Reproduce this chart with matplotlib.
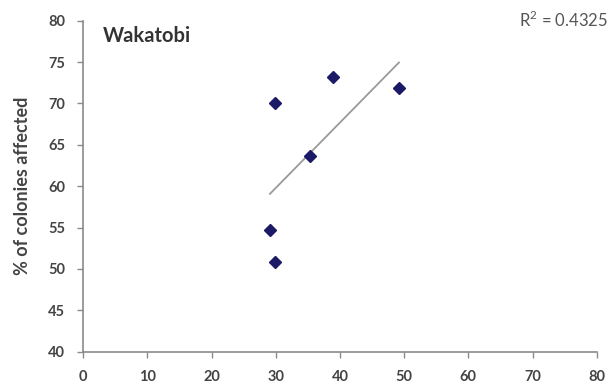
import numpy as np
import matplotlib
matplotlib.use("Agg")
import matplotlib.pyplot as plt

# Bleaching survey, Wakatobi sites
x_vals = [29.1, 29.9, 29.9, 35.3, 39.0, 49.2]
y_vals = [54.7, 50.8, 70.1, 63.6, 73.2, 71.9]
x_ticks = [0, 10, 20, 30, 40, 50, 60, 70, 80]
y_ticks = [40, 45, 50, 55, 60, 65, 70, 75, 80]
site_name = "Wakatobi"
r2_label = "R$^2$ = 0.4325"
y_title = "% of colonies affected"

plt.rcParams['font.family'] = ['Lato', 'DejaVu Sans']
plt.rcParams['mathtext.fontset'] = 'custom'
plt.rcParams['mathtext.rm'] = 'Lato'

fig = plt.figure(figsize=(6.12, 3.87), dpi=100)
ax = fig.add_axes([0.1358, 0.0912, 0.8392, 0.8553])

# linear trendline over the data range
slope, intercept = np.polyfit(x_vals, y_vals, 1)
xs = np.array([min(x_vals), max(x_vals)])
ax.plot(xs, slope * xs + intercept, color="#9a9a9a", lw=1.3, zorder=2)

ax.plot(x_vals, y_vals, linestyle="none", marker="D", markersize=6,
        color="#1c1a66", markeredgecolor="#1c1a66", zorder=3)

ax.set_xlim(0, 80)
ax.set_ylim(40, 80)
ax.set_xticks(x_ticks)
ax.set_yticks(y_ticks)

for side in ("top", "right"):
    ax.spines[side].set_visible(False)
for side in ("left", "bottom"):
    ax.spines[side].set_color("#8a8a8a")
    ax.spines[side].set_linewidth(1.2)

ax.tick_params(axis="both", direction="out", length=4, width=1,
               color="#8a8a8a", labelsize=10.5, labelcolor="#444444")
for lab in ax.get_xticklabels() + ax.get_yticklabels():
    lab.set_fontweight("bold")
ax.tick_params(axis="x", pad=9)
ax.tick_params(axis="y", pad=9)

ax.set_ylabel(y_title, fontsize=13, fontweight="bold", color="#444444", labelpad=12)

ax.text(0.038, 0.955, site_name, transform=ax.transAxes, fontsize=14.5,
        fontweight="bold", color="#333333", ha="left", va="center")
fig.text(0.994, 0.948, r2_label, fontsize=12, color="#555555", ha="right", va="center")

fig.savefig("out.png", dpi=100)
